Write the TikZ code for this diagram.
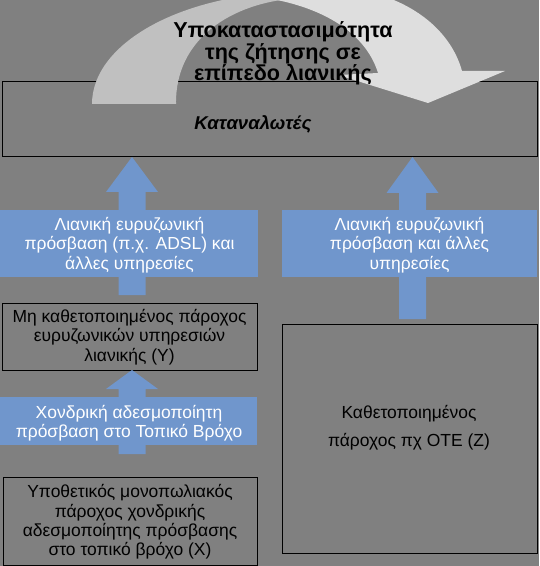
\documentclass[tikz,border=0pt]{standalone}
\usepackage{fontspec}
\setmainfont{Liberation Sans}
\usetikzlibrary{calc}
\newcommand{\px}{0.75pt}
\definecolor{bggray}{RGB}{128,128,128}
\definecolor{backband}{RGB}{192,192,192}
\definecolor{frontband}{RGB}{222,222,222}
\definecolor{flowblue}{RGB}{112,150,204}
\newcommand{\boxfont}{\fontsize{13.1pt}{14.6pt}\selectfont}
\tikzstyle{plainbox}=[draw=black, line width=\px, inner sep=0, outer sep=0]
\tikzstyle{flowbox}=[fill=flowblue, inner sep=0, outer sep=0]
\tikzstyle{boxtext}=[align=center, inner sep=0, font=\boxfont]
\tikzstyle{whitetext}=[boxtext, text=white]
% block arrow from a tail coordinate up to a tip coordinate, #3 = head length
\newcommand{\blockup}[3]{%
  \fill[flowblue] ($(#1)+(-13.5,0)$) -- ($(#2)+(-13.5,#3)$) -- ($(#2)+(-26,#3)$) -- (#2)
    -- ($(#2)+(26,#3)$) -- ($(#2)+(13.5,#3)$) -- ($(#1)+(13.5,0)$) -- cycle;}
\begin{document}
\begin{tikzpicture}[x=\px, y=-\px]
        \fill[bggray] (0,0) rectangle (539,566);
        \useasboundingbox (0,0) rectangle (539,566);
        % top: consumers and the substitution arc
        \node[plainbox, minimum width=535*\px, minimum height=75*\px] (cons) at (269.5,119.5) {};
        \node[font=\fontsize{13.9pt}{15pt}\selectfont\bfseries\itshape, inner sep=0] (constext) at (253,124) {Καταναλωτές};
        \begin{scope}
            \clip (0,0) rectangle (539,566);
            \fill[backband] (92,104) .. controls (92,42) and (185,-8) .. (300,-8)
                -- (300,-2) .. controls (230,2) and (175,40) .. (176,104) -- cycle;
            \fill[frontband] (277,0) .. controls (335,12) and (368,40) .. (378,73)
                -- (338,75) -- (428,103) -- (505,71) -- (462,71)
                .. controls (452,35) and (420,5) .. (370,-8) -- (255,-10) -- cycle;
        \end{scope}
        \node[boxtext, font=\fontsize{16.2pt}{16.2pt}\selectfont\bfseries] (subst) at (283,53.5)
            {Υποκαταστασιμότητα\\της ζήτησης σε\\επίπεδο λιανικής};
        % left column
        \node[plainbox, minimum width=255*\px, minimum height=67*\px] (prov) at (129.5,336.5) {};
        \node[boxtext] (provtext) at (129.5,337)
            {Μη καθετοποιημένος πάροχος\\ευρυζωνικών υπηρεσιών\\λιανικής (Υ)};
        \node[plainbox, minimum width=254*\px, minimum height=88*\px] (mono) at (130,521) {};
        \node[boxtext] (monotext) at (130,522)
            {Υποθετικός μονοπωλιακός\\πάροχος χονδρικής\\αδεσμοποίητης πρόσβασης\\στο τοπικό βρόχο (Χ)};
        \coordinate (tailA) at (132,295);
        \coordinate (tipA) at (cons.south -| tailA);
        \coordinate (tailC) at (132,454);
        \coordinate (tipC) at (prov.south -| tailC);
        \blockup{tailA}{tipA}{35}
        \blockup{tailC}{tipC}{19}
        \node[flowbox, minimum width=258*\px, minimum height=67*\px] (retailA) at (129,243.5) {};
        \node[whitetext] at (129.5,245) {Λιανική ευρυζωνική\\πρόσβαση (π.χ. ADSL) και\\άλλες υπηρεσίες};
        \node[flowbox, minimum width=257*\px, minimum height=48*\px] (wholesale) at (128.5,421) {};
        \node[whitetext] at (129,423) {Χονδρική αδεσμοποίητη\\πρόσβαση στο Τοπικό Βρόχο};
        % right column
        \node[plainbox, minimum width=255*\px, minimum height=229*\px] (integ) at (409.5,438.5) {};
        \node[boxtext, font=\fontsize{13.1pt}{21pt}\selectfont] (integtext) at (409,428)
            {Καθετοποιημένος\\πάροχος πχ ΟΤΕ (Ζ)};
        \coordinate (tailB) at (412.5,319);
        \coordinate (tipB) at (cons.south -| tailB);
        \blockup{tailB}{tipB}{36}
        \node[flowbox, minimum width=255*\px, minimum height=67*\px] (retailB) at (409.5,243.5) {};
        \node[whitetext] at (409.5,245) {Λιανική ευρυζωνική\\πρόσβαση και άλλες\\υπηρεσίες};
    \end{tikzpicture}
\end{document}
